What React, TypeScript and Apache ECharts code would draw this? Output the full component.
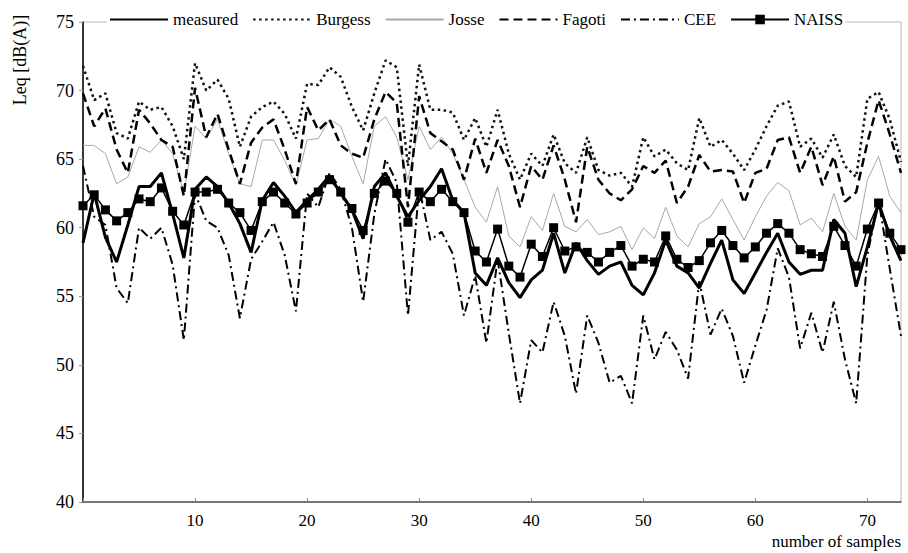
import React, { useEffect, useRef } from "react";
import * as echarts from "echarts";

const seriesNames = ["measured", "Burgess", "Josse", "Fagoti", "CEE", "NAISS"];

const measured = [
  58.9, 62.5, 59.3, 57.5, 60.2, 63.0, 63.0, 64.0, 61.0, 57.8,
  62.8, 63.7, 63.0, 61.8, 60.3, 58.2, 62.0, 63.3, 62.3, 61.1,
  62.0, 62.8, 63.8, 62.5, 61.3, 59.2, 63.0, 64.0, 62.3, 60.8,
  62.0, 63.0, 64.3, 62.0, 61.1, 56.7, 55.8, 57.8, 56.0, 54.9,
  56.2, 56.9, 59.6, 56.7, 58.9, 57.6, 56.6, 57.2, 57.5, 55.8,
  55.1, 56.7, 59.1, 57.2, 56.7, 55.6, 57.4, 59.1, 56.2, 55.2,
  56.7, 58.2, 59.6, 57.5, 56.6, 56.9, 56.9, 60.6, 59.6, 55.7,
  58.6, 61.8, 59.4, 57.6,
];

const burgess = [
  71.8, 69.3, 69.8, 66.9, 66.5, 69.2, 68.6, 68.8, 67.4, 65.0,
  72.0, 70.0, 70.8, 69.4, 65.9, 68.1, 68.8, 69.2, 68.3, 66.5,
  70.5, 70.4, 71.7, 71.0, 68.8, 67.1, 69.8, 72.2, 71.7, 64.5,
  71.9, 68.6, 68.6, 68.4, 66.4, 68.0, 65.9, 68.6, 65.4, 63.5,
  65.4, 64.5, 66.8, 64.7, 64.0, 66.6, 64.2, 63.8, 64.0, 63.0,
  66.6, 65.2, 65.7, 64.7, 64.2, 68.0, 65.9, 66.4, 65.4, 64.2,
  65.7, 67.4, 68.9, 69.2, 65.9, 66.5, 65.1, 66.8, 64.5, 63.7,
  69.4, 69.9, 67.9, 64.8,
];

const josse = [
  66.0, 66.0, 65.4, 63.2, 63.7, 65.9, 65.5, 66.4, 65.4, 62.5,
  67.4, 66.5, 67.9, 65.4, 63.2, 63.0, 66.4, 66.4, 64.9, 63.1,
  66.4, 66.5, 67.9, 67.4, 65.2, 63.2, 67.4, 68.1, 66.6, 63.5,
  67.4, 65.7, 66.6, 65.4, 63.5, 61.5, 60.4, 63.0, 59.4, 58.6,
  60.8, 59.8, 62.5, 60.1, 59.7, 60.6, 59.5, 59.7, 60.1, 58.4,
  60.0, 59.2, 61.5, 59.4, 58.6, 60.3, 60.8, 62.1, 60.6, 59.1,
  60.8, 62.3, 63.3, 62.7, 60.2, 60.7, 59.7, 62.5, 60.1, 59.1,
  63.5, 65.2, 62.3, 61.1,
];

const fagoti = [
  69.8, 67.4, 68.7, 65.7, 64.0, 68.6, 67.6, 66.4, 65.9, 62.3,
  70.2, 66.6, 68.3, 65.7, 63.2, 66.2, 67.3, 67.9, 65.7, 63.2,
  68.8, 67.1, 67.9, 66.0, 65.4, 65.1, 67.9, 69.9, 69.1, 61.5,
  69.6, 66.9, 66.3, 65.7, 63.5, 66.5, 64.0, 66.4, 64.5, 61.5,
  64.5, 63.5, 66.0, 63.5, 60.4, 65.9, 63.5, 62.5, 62.0, 62.8,
  64.5, 64.0, 64.9, 61.8, 63.0, 65.3, 64.1, 64.2, 64.1, 61.8,
  64.0, 64.3, 66.4, 66.6, 64.0, 65.9, 63.1, 65.2, 61.9, 62.6,
  66.2, 69.3, 66.8, 64.0,
];

const cee = [
  64.5, 60.8, 60.2, 55.6, 54.5, 60.0, 59.2, 60.0, 57.3, 51.8,
  62.5, 60.5, 60.0, 58.0, 53.4, 57.7, 59.0, 60.4, 58.0, 53.9,
  62.5, 61.5, 64.0, 62.8, 60.0, 54.6, 61.0, 65.0, 63.3, 53.6,
  62.9, 59.1, 59.7, 58.1, 53.6, 56.5, 51.6, 57.7, 52.3, 47.2,
  51.8, 50.9, 54.6, 52.1, 47.9, 53.6, 51.6, 48.7, 49.2, 47.2,
  53.6, 50.4, 52.4, 51.1, 49.0, 56.1, 52.2, 54.1, 52.1, 48.7,
  51.4, 54.0, 58.5, 56.4, 51.2, 53.8, 50.9, 54.6, 50.4, 47.2,
  58.0, 62.0, 57.0, 52.1,
];

const naiss = [
  61.6, 62.4, 61.3, 60.5, 61.1, 62.1, 61.9, 62.9, 61.2, 60.2,
  62.6, 62.6, 62.8, 61.8, 61.1, 59.8, 61.9, 62.6, 61.8, 61.0,
  61.8, 62.6, 63.5, 62.6, 61.4, 59.8, 62.5, 63.4, 62.5, 60.4,
  62.6, 61.9, 62.8, 61.9, 61.1, 58.3, 57.5, 59.9, 57.2, 56.4,
  58.8, 57.9, 60.0, 58.3, 58.6, 58.2, 57.5, 58.2, 58.7, 57.2,
  57.7, 57.5, 59.4, 57.7, 57.1, 57.6, 58.9, 59.8, 58.7, 57.8,
  58.6, 59.6, 60.3, 59.6, 58.4, 58.1, 57.9, 60.1, 58.7, 57.2,
  59.9, 61.8, 59.6, 58.4,
];

const yTicks = [40, 45, 50, 55, 60, 65, 70, 75];
const xTickValues = [10, 20, 30, 40, 50, 60, 70];

const FONT = "'Liberation Serif', 'Times New Roman', serif";

export default function App() {
  const ref = useRef<HTMLDivElement>(null);

  useEffect(() => {
    if (!ref.current) return;
    const chart = echarts.init(ref.current, null, { renderer: "svg" });
    const pairs = (arr: number[]) => arr.map((v, i) => [i, v]);
    const lastIndex = measured.length - 1;

    const base = {
      type: "line",
      showSymbol: false,
      symbol: "none",
      smooth: false,
      silent: true,
    };

    const legendData = seriesNames.map((name) =>
      name === "NAISS"
        ? { name }
        : { name, itemStyle: { opacity: 0, color: "rgba(0,0,0,0)", borderColor: "rgba(0,0,0,0)" } }
    );

    const option = {
      animation: false,
      backgroundColor: "#ffffff",
      textStyle: { fontFamily: FONT },
      grid: {
        left: 83,
        right: 7,
        top: 22,
        bottom: 51,
        show: true,
        borderColor: "#b8b8b8",
        borderWidth: 1,
        backgroundColor: "transparent",
      },
      legend: {
        left: 107,
        top: 9,
        itemWidth: 58,
        itemHeight: 12,
        itemGap: 14,
        data: legendData,
        textStyle: { fontFamily: FONT, fontSize: 17, color: "#000" },
        backgroundColor: "#ffffff",
        padding: [2, 2, 2, 2],
      },
      xAxis: {
        type: "value",
        min: 0,
        max: lastIndex,
        interval: 10,
        axisLine: { show: true, lineStyle: { color: "#555", width: 1.5 } },
        axisTick: { show: true, inside: true, length: 4, lineStyle: { color: "#888" } },
        splitLine: { show: false },
        axisLabel: {
          fontFamily: FONT,
          fontSize: 17,
          color: "#000",
          margin: 10,
          showMaxLabel: false,
          formatter: (v: number) => (xTickValues.includes(v) ? String(v) : ""),
        },
      },
      yAxis: {
        type: "value",
        min: yTicks[0],
        max: yTicks[yTicks.length - 1],
        interval: 5,
        axisLine: { show: true, lineStyle: { color: "#000", width: 1.5 } },
        axisTick: { show: true, inside: false, length: 4, lineStyle: { color: "#999" } },
        splitLine: { show: false },
        axisLabel: {
          fontFamily: FONT,
          fontSize: 18,
          color: "#000",
          margin: 9,
        },
      },
      graphic: [
        {
          type: "text",
          x: 20,
          y: 60,
          rotation: Math.PI / 2,
          style: {
            text: "Leq [dB(A)]",
            fontFamily: FONT,
            fontSize: 18,
            fill: "#000",
            textAlign: "center",
            textVerticalAlign: "middle",
          },
        },
        {
          type: "text",
          right: 7,
          top: 533,
          style: {
            text: "number of samples",
            fontFamily: FONT,
            fontSize: 17,
            fill: "#000",
          },
        },
      ],
      series: [
        {
          ...base,
          name: "measured",
          data: pairs(measured),
          z: 6,
          lineStyle: { color: "#000", width: 3 },
          itemStyle: { color: "#000" },
        },
        {
          ...base,
          name: "Burgess",
          data: pairs(burgess),
          z: 3,
          lineStyle: { color: "#111", width: 2.5, type: [2.5, 3.5] },
          itemStyle: { color: "#111" },
        },
        {
          ...base,
          name: "Josse",
          data: pairs(josse),
          z: 2,
          lineStyle: { color: "#a8a8a8", width: 1 },
          itemStyle: { color: "#a8a8a8" },
        },
        {
          ...base,
          name: "Fagoti",
          data: pairs(fagoti),
          z: 4,
          lineStyle: { color: "#000", width: 2.5, type: [9, 5] },
          itemStyle: { color: "#000" },
        },
        {
          ...base,
          name: "CEE",
          data: pairs(cee),
          z: 4,
          lineStyle: { color: "#000", width: 2, type: [9, 4, 2, 4] },
          itemStyle: { color: "#000" },
        },
        {
          type: "line",
          name: "NAISS",
          data: pairs(naiss),
          z: 7,
          symbol: "rect",
          symbolSize: 9,
          showSymbol: true,
          silent: true,
          lineStyle: { color: "#000", width: 1.5 },
          itemStyle: { color: "#000" },
        },
      ],
    };

    chart.setOption(option as any);
    return () => chart.dispose();
  }, []);

  return (
    <div
      ref={ref}
      style={{ position: "fixed", left: 0, top: 0, width: 908, height: 553, background: "#fff" }}
    />
  );
}
